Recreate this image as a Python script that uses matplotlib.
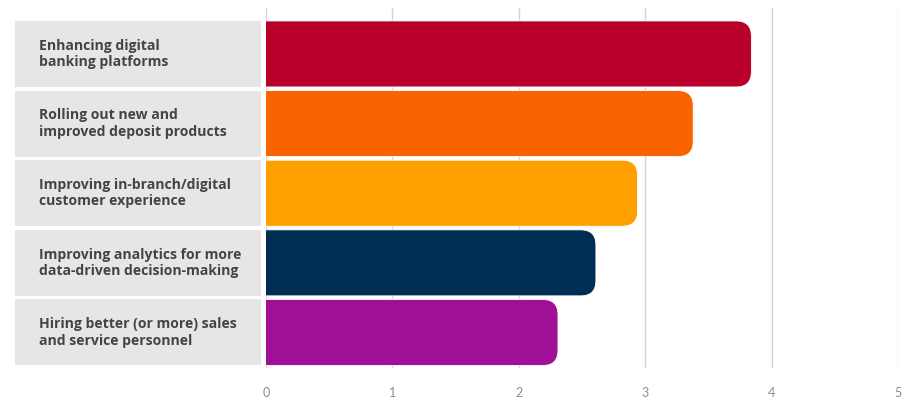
import matplotlib
matplotlib.use("Agg")
import matplotlib.pyplot as plt
from matplotlib.patches import FancyBboxPatch, Rectangle
from matplotlib.transforms import blended_transform_factory

labels = [
    "Enhancing digital\nbanking platforms",
    "Rolling out new and\nimproved deposit products",
    "Improving in-branch/digital\ncustomer experience",
    "Improving analytics for more\ndata-driven decision-making",
    "Hiring better (or more) sales\nand service personnel",
]
values = [3.84, 3.38, 2.94, 2.61, 2.31]
colors = ["#b8002a", "#f76400", "#ffa000", "#002d54", "#a01097"]
ticks = [0, 1, 2, 3, 4, 5]

W, H = 907, 398
fig = plt.figure(figsize=(W / 100, H / 100), dpi=100)
ax = fig.add_axes([266 / W, 1 - 368 / H, 632 / W, 360 / H])

pos = list(range(len(values)))
bh = 0.948
ax.set_xlim(0, 5)
ax.set_ylim(4.51, -0.66)

# rounding in x data units, aspect keeps the corners circular
r = 0.12
aspect = (5.17 / 360) / (5 / 632)

bars = ax.barh(pos, values, height=bh, color=colors, zorder=3)
for b, c in zip(bars, colors):
    x, y, w, h = b.get_x(), b.get_y(), b.get_width(), b.get_height()
    b.set_visible(False)
    # start left of 0 so the left corners are clipped off by the axes
    ax.add_patch(FancyBboxPatch((x - 0.3, y), w + 0.3, h,
                                boxstyle="round,pad=0,rounding_size=%f" % r,
                                mutation_aspect=aspect, fc=c, ec="white",
                                lw=0.6, zorder=3))

# grey label boxes on the left
tr = blended_transform_factory(fig.transFigure, ax.transData)
for p, lab in zip(pos, labels):
    fig.add_artist(Rectangle((15 / W, p - bh / 2), 246 / W, bh, transform=tr,
                             fc="#e6e6e6", ec="none", clip_on=False))
    fig.text(39 / W, p, lab, transform=tr, va="center", ha="left",
             fontsize=10.1, family=["Open Sans", "DejaVu Sans"], fontweight="bold",
             color="#444444", linespacing=1.2)

ax.set_xticks(ticks)
ax.set_xticklabels([str(t) for t in ticks], family=["Lato", "DejaVu Sans"],
                   fontsize=9, color="#8c8c8c")
ax.tick_params(axis="x", length=0, pad=14)
ax.set_yticks([])
ax.grid(axis="x", color="#d4d4d4", lw=1, zorder=0)
for s in ax.spines.values():
    s.set_visible(False)

fig.savefig("out.png", dpi=100)
